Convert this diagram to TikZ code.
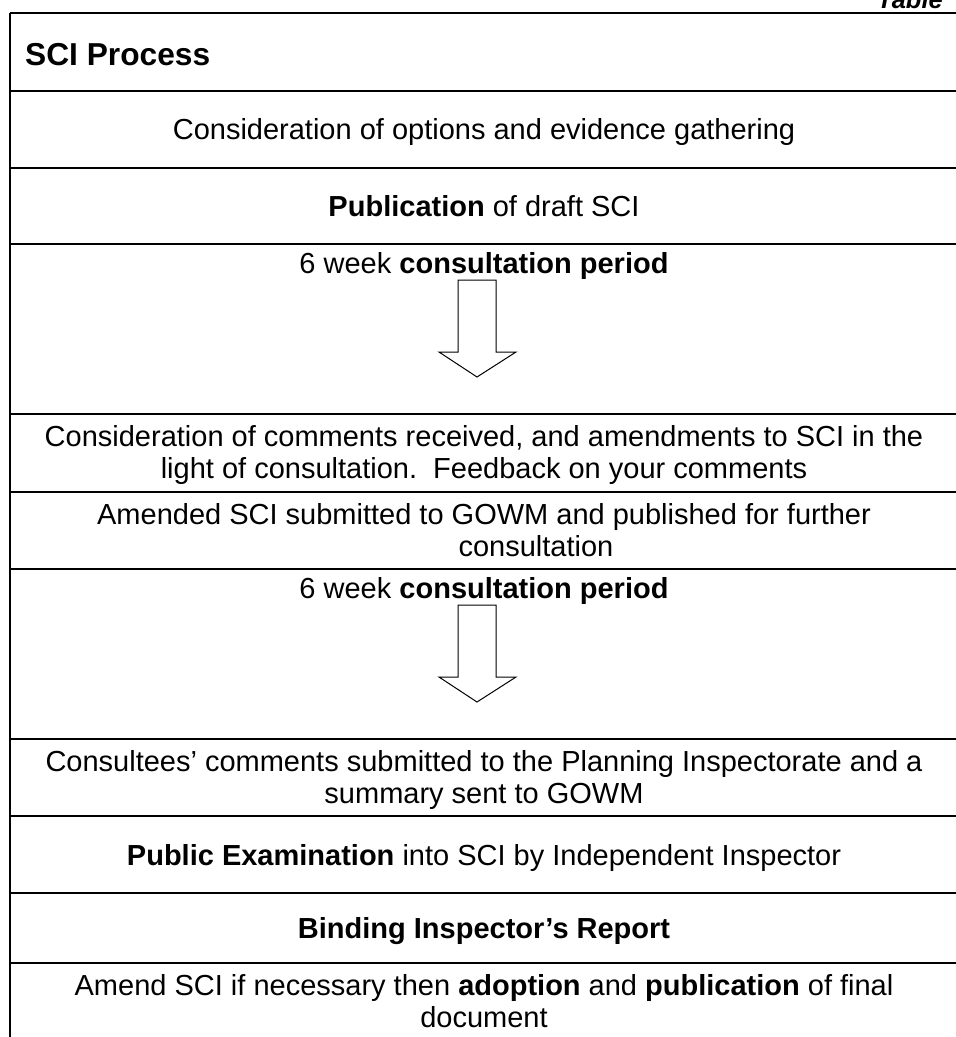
\documentclass[tikz,border=0pt]{standalone}
\usepackage{fontspec}
\setmainfont{Liberation Sans}
\usetikzlibrary{positioning}

\tikzset{
    rowtext/.style={align=center, anchor=base, inner sep=0pt, font=\fontsize{29}{32}\selectfont},
    rule/.style={line width=2pt},
    blockarrow/.style={draw, line width=1pt, fill=white, line join=miter}
}

\begin{document}
\begin{tikzpicture}[x=1pt, y=-1pt]
    \useasboundingbox (0,0) rectangle (956,1037);
    % frame and row rules
    \draw[line width=2.5pt] (10,13) -- (956,13);
    \draw[rule] (10,13) -- (10,1037);
    \foreach \y in {91,168,244,414,492,569,739,816,893,963}
        \draw[rule] (10,\y) -- (956,\y);

    \node[inner sep=0pt, anchor=base east, font=\fontsize{25.5}{30}\selectfont\bfseries\itshape] (tag) at (943,8) {Table};
    \node[inner sep=0pt, anchor=base west, font=\fontsize{31.7}{36}\selectfont\bfseries] (title) at (25,65) {SCI Process};

    % single lines sit on their baseline, two-line texts on the last one
    \node[rowtext] (options) at (484,139) {Consideration of options and evidence gathering};
    \node[rowtext] (draft) at (484,216) {\textbf{Publication} of draft SCI};
    \node[rowtext] (consulta) at (484,273) {6 week \textbf{consultation period}};
    \node[rowtext] (comments) at (484,478) {Consideration of comments received, and amendments to SCI in the\\light of consultation.\ \ Feedback on your comments};
    \node[rowtext] (amended) at (484,556) {Amended SCI submitted to GOWM and published for further\\\hspace*{104pt}consultation};
    \node[rowtext] (consultb) at (484,598) {6 week \textbf{consultation period}};
    \node[rowtext] (consultees) at (484,803) {Consultees’ comments submitted to the Planning Inspectorate and a\\summary sent to GOWM};
    \node[rowtext] (exam) at (484,865) {\textbf{Public Examination} into SCI by Independent Inspector};
    \node[rowtext] (report) at (484,938) {\textbf{Binding Inspector’s Report}};
    \node[rowtext] (adopt) at (484,1027) {Amend SCI if necessary then \textbf{adoption} and \textbf{publication} of final\\document};

    % hollow arrows under the consultation periods
    \coordinate (arra) at (477,280);
    \coordinate (arrb) at (477,605);
    \foreach \a in {arra,arrb}
        \draw[blockarrow, shift={(\a)}] (-19,0) -- (-19,72) -- (-38,72) -- (0,97) -- (39,72) -- (19,72) -- (19,0) -- cycle;
\end{tikzpicture}
\end{document}
